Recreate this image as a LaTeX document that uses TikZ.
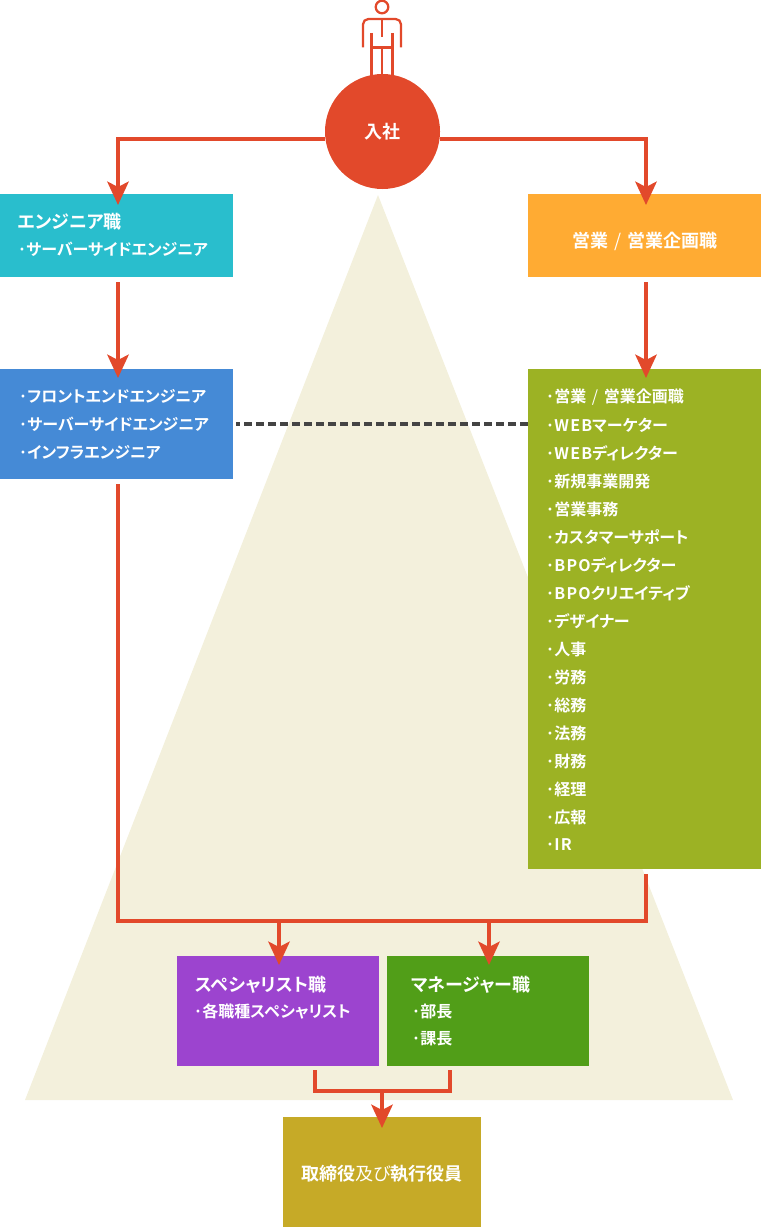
\documentclass[tikz,border=0pt]{standalone}
\usepackage{fontspec}
\setmainfont{Noto Sans CJK JP}[BoldFont={Noto Sans CJK JP Bold},RawFeature=+palt]
\usetikzlibrary{arrows.meta}
\definecolor{cred}{HTML}{E2492B}
\definecolor{ctri}{HTML}{F3F0DC}
\definecolor{ccyan}{HTML}{29BECD}
\definecolor{corange}{HTML}{FFAB33}
\definecolor{cblue}{HTML}{458AD6}
\definecolor{colive}{HTML}{9CB224}
\definecolor{cpurple}{HTML}{9C44CF}
\definecolor{cgreen}{HTML}{519E18}
\definecolor{cgold}{HTML}{C6AA27}
\definecolor{cdash}{HTML}{444444}
\tikzset{
  x=0.75pt,y=-0.75pt,
  boxnode/.style={rectangle,anchor=north west,inner sep=0pt,outer sep=0pt},
  conn/.style={draw=cred,line width=3pt,line join=miter},
  connarrow/.style={conn,-{Stealth[length=17.5pt,width=16pt,inset=4pt]}},
  figure/.style={draw=cred,line width=1.7pt},
  title/.style={anchor=west,inner sep=0pt,text=white,font=\fontsize{13.5pt}{15pt}\selectfont\bfseries},
  item/.style={anchor=west,inner sep=0pt,text=white,font=\fontsize{12pt}{14pt}\selectfont\bfseries},
}
\newcommand{\dotmark}{·\hspace{-0.3pt}}
\newcommand{\slashmark}{\hspace{0.35em}{\mdseries /}\hspace{0.35em}}
\newcommand{\spaced}[1]{{\addfontfeature{LetterSpace=8}#1}}
\begin{document}
\begin{tikzpicture}
\useasboundingbox (0,0) rectangle (761,1227);
% pyramid
\fill[ctri] (378,195) -- (733,1100) -- (25,1100) -- cycle;
% figure
\draw[figure] (382,7) circle (6.3);
\draw[figure,rounded corners=4pt] (363,47.5) -- (363,19) -- (401,19) -- (401,47.5);
\draw[figure] (382,19) -- (382,37);
\draw[figure] (371.5,33) -- (371.5,78);
\draw[figure] (392.5,33) -- (392.5,78);
\draw[figure] (371.5,47.5) -- (392.5,47.5);
\draw[figure] (382,47.5) -- (382,78);
% circle
\node[circle,fill=cred,minimum size=86.25pt,inner sep=0pt,outer sep=0pt,text=white,
  font=\fontsize{13.5pt}{15pt}\selectfont\bfseries] (enter) at (382.5,131.5) {入社};
% boxes
\node[boxnode,fill=ccyan,minimum width=174.75pt,minimum height=62.25pt] (eng) at (0,194) {};
\node[boxnode,fill=corange,minimum width=174.75pt,minimum height=62.25pt] (sales) at (528,194) {};
\node[boxnode,fill=cblue,minimum width=174.75pt,minimum height=82.5pt] (fe) at (0,369) {};
\node[boxnode,fill=colive,minimum width=174.75pt,minimum height=375pt] (biz) at (528,369) {};
\node[boxnode,fill=cpurple,minimum width=151.5pt,minimum height=82.5pt] (spec) at (177,956) {};
\node[boxnode,fill=cgreen,minimum width=151.5pt,minimum height=82.5pt] (mgr) at (387,956) {};
\node[boxnode,fill=cgold,minimum width=148.5pt,minimum height=82.5pt] (exec) at (283,1117) {};
% dashed link
\draw[cdash,line width=3pt,dash pattern=on 6pt off 3pt,dash phase=3pt] (fe.east |- 0,424) ++(3,0) -- (biz.west |- 0,424);
% free ends of connectors
\coordinate (tipEng) at (118,205);
\coordinate (tipSales) at (646,205);
\coordinate (outEng) at (118,282);
\coordinate (tipFe) at (118,378);
\coordinate (outSales) at (646,282);
\coordinate (tipBiz) at (646,378);
\coordinate (outFe) at (118,484);
\coordinate (outBiz) at (646,874);
\coordinate (busL) at (118,921);
\coordinate (busR) at (646,921);
\coordinate (busS) at (279,921);
\coordinate (busM) at (489,921);
\coordinate (tipSpec) at (279,965);
\coordinate (tipMgr) at (489,965);
\coordinate (outSpec) at (315,1070);
\coordinate (outMgr) at (450,1070);
\coordinate (mergeL) at (315,1091);
\coordinate (mergeR) at (450,1091);
\coordinate (mergeC) at (382,1091);
\coordinate (tipExec) at (382,1128);
% connectors
\draw[connarrow] (enter.187) -| (tipEng);
\draw[connarrow] (enter.-7) -| (tipSales);
\draw[connarrow] (outEng) -- (tipFe);
\draw[connarrow] (outSales) -- (tipBiz);
\draw[conn] (outFe) -- (busL) -- (busR) -- (outBiz);
\draw[connarrow] (busS) -- (tipSpec);
\draw[connarrow] (busM) -- (tipMgr);
\draw[conn] (outSpec) -- (mergeL) -- (mergeR) -- (outMgr);
\draw[connarrow] (mergeC) -- (tipExec);
% labels
\node[title] (tEng) at (17.5,222) {エンジニア職};
\node[item] (iEng) at (17,249) {\dotmark サーバーサイドエンジニア};
\node[title,anchor=center] (tSales) at (645,241) {営業\slashmark 営業企画職};
\node[item] (f1) at (18,396) {\dotmark フロントエンドエンジニア};
\node[item] (f2) at (18,424) {\dotmark サーバーサイドエンジニア};
\node[item] (f3) at (18,452) {\dotmark インフラエンジニア};
\node[item] (b1) at (545,397) {\dotmark 営業\slashmark 営業企画職};
\node[item] (b2) at (545,425) {\dotmark \spaced{WEB}マーケター};
\node[item] (b3) at (545,453) {\dotmark \spaced{WEB}ディレクター};
\node[item] (b4) at (545,481) {\dotmark 新規事業開発};
\node[item] (b5) at (545,509) {\dotmark 営業事務};
\node[item] (b6) at (545,537) {\dotmark カスタマーサポート};
\node[item] (b7) at (545,565) {\dotmark \spaced{BPO}ディレクター};
\node[item] (b8) at (545,593) {\dotmark \spaced{BPO}クリエイティブ};
\node[item] (b9) at (545,621) {\dotmark デザイナー};
\node[item] (b10) at (545,649) {\dotmark 人事};
\node[item] (b11) at (545,677) {\dotmark 労務};
\node[item] (b12) at (545,705) {\dotmark 総務};
\node[item] (b13) at (545,733) {\dotmark 法務};
\node[item] (b14) at (545,761) {\dotmark 財務};
\node[item] (b15) at (545,789) {\dotmark 経理};
\node[item] (b16) at (545,817) {\dotmark 広報};
\node[item] (b17) at (545,845) {\dotmark \spaced{IR}};
\node[title] (tSpec) at (195,985) {スペシャリスト職};
\node[item] (iSpec) at (193,1011) {\dotmark 各職種スペシャリスト};
\node[title] (tMgr) at (411,985) {マネージャー職};
\node[item] (m1) at (411,1011) {\dotmark 部長};
\node[item] (m2) at (411,1039) {\dotmark 課長};
\node[title,anchor=center] (tExec) at (382,1174) {取締役{\mdseries 及び}執行役員};
\end{tikzpicture}
\end{document}
